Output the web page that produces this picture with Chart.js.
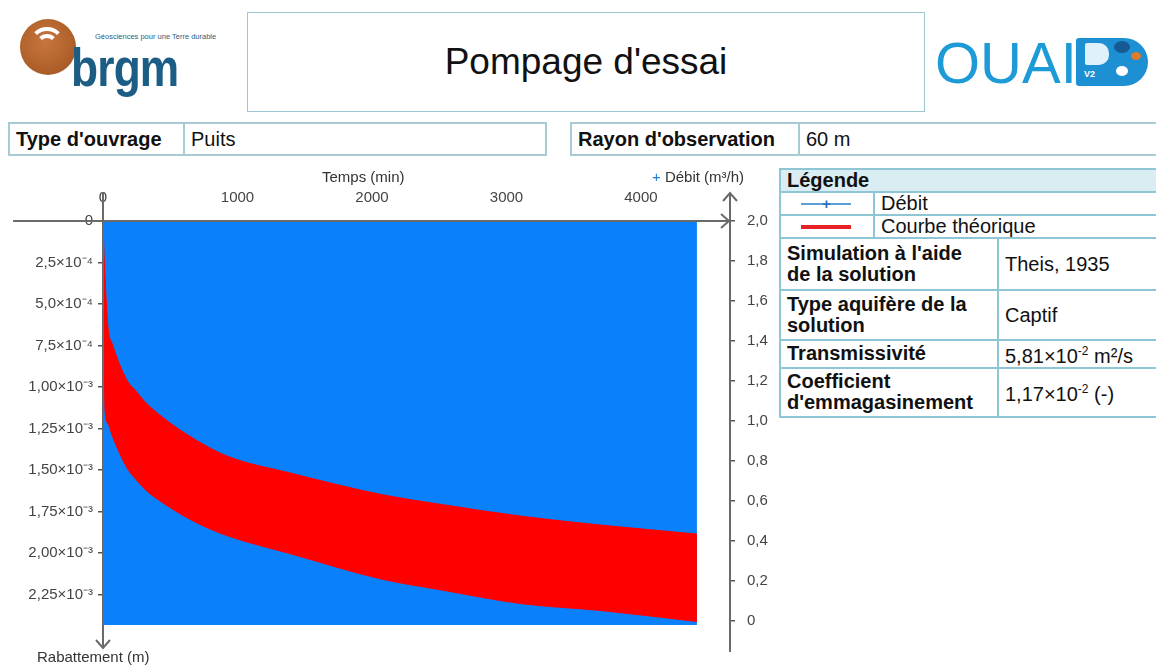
<!DOCTYPE html>
<html>
<head>
<meta charset="utf-8">
<script src="https://cdn.jsdelivr.net/npm/chart.js@4"></script>
<style>
  body { margin: 0; background: #fff; font-family: "Liberation Sans", Arial, sans-serif; color: #111; }
  #page { position: relative; width: 1156px; height: 666px; overflow: hidden; }
  .abs { position: absolute; }

  /* brgm logo */
  #ball { left: 20px; top: 19px; width: 56px; height: 56px; border-radius: 50%;
          background: radial-gradient(circle at 45% 40%, #c7773d 0%, #b0602a 60%, #9a5022 100%); overflow: hidden; }
  .ring { position: absolute; border-radius: 50%; border: 4px solid transparent; border-top-color: #fff; }
  #r1 { left: 9px; top: 8px; width: 28px; height: 28px; }
  #r2 { left: 16px; top: 15px; width: 14px; height: 14px; }
  #tag { left: 95px; top: 32px; font-size: 7.5px; color: #2c5f80; white-space: nowrap; }
  #word { left: 71px; top: 36px; font-size: 54px; font-weight: bold; color: #1c5d85;
          transform: scaleX(0.82); transform-origin: left top; letter-spacing: -1px; }

  #titlebox { left: 247px; top: 12px; width: 676px; height: 98px; border: 1px solid #9cc6d2;
              display: flex; align-items: center; justify-content: center; font-size: 37px; }

  /* OUAIP logo */
  #ouai { left: 935px; top: 29px; font-size: 58px; color: #1e9bd7; letter-spacing: 0px; }
  #badge { left: 1076px; top: 38px; width: 72px; height: 48px; background: #1d8fd3; border-radius: 3px 24px 24px 3px; }
  #badge .hole { position: absolute; left: 9px; top: 5px; width: 24px; height: 22px; background: #dff1fb; border-radius: 2px 10px 10px 2px; }
  #badge .v2 { position: absolute; left: 8px; top: 31px; font-size: 9px; color: #fff; font-weight: bold; }
  #badge .b1 { position: absolute; left: 38px; top: 3px; width: 16px; height: 12px; background: #155a93; border-radius: 50%; }
  #badge .b2 { position: absolute; left: 55px; top: 14px; width: 10px; height: 8px; background: #e07b2a; border-radius: 50%; }
  #badge .b3 { position: absolute; left: 40px; top: 28px; width: 12px; height: 10px; background: #fff; border-radius: 50%; }

  /* info row */
  .info { top: 122px; height: 30px; border: 2px solid #a8ccd6; display: flex; font-size: 20px; line-height: 30px; }
  .info .k { font-weight: bold; padding: 0 6px; border-right: 2px solid #a8ccd6; }
  .info .v { padding: 0 6px; }

  /* legend & parameters */
  table { position: absolute; border-collapse: collapse; table-layout: fixed; font-size: 20px; line-height: 21px; }
  td { border: 2px solid #8ec6d6; padding: 0 6px; vertical-align: middle; white-space: nowrap; }
  #legend { left: 779px; top: 168px; width: 390px; }
  #legend tr.head td { background: #d9edf3; font-weight: bold; height: 21px; }
  #legend td { height: 21px; }
  #params { left: 779px; top: 237px; width: 390px; }
  #params td.k { font-weight: bold; }
  .sym { position: relative; }
  .sym .ln { position: absolute; left: 20px; top: 50%; width: 50px; }
  .sym .blue { height: 2px; margin-top: -1px; background: #5c9ed8; }
  .sym .plus { position: absolute; left: 41px; top: 50%; margin-top: -11px; color: #2a70c0; font-size: 15px; font-weight: bold; }
  .sym .red { height: 4px; margin-top: -2px; background: #e62227; }

  #chartbox { left: 0; top: 160px; width: 775px; height: 506px; }
  .axt { font-size: 15px; color: #333; white-space: nowrap; }
</style>
</head>
<body>
<div id="page">
  <div id="ball" class="abs"><div id="r1" class="ring"></div><div id="r2" class="ring"></div></div>
  <div id="tag" class="abs">Géosciences pour une Terre durable</div>
  <div id="word" class="abs">brgm</div>

  <div id="titlebox" class="abs">Pompage d'essai</div>

  <div id="ouai" class="abs">OUAI</div>
  <div id="badge" class="abs"><div class="hole"></div><div class="v2">V2</div><div class="b1"></div><div class="b2"></div><div class="b3"></div></div>

  <div class="abs info" style="left:8px; width:535px;"><div class="k" style="width:161px;">Type d'ouvrage</div><div class="v">Puits</div></div>
  <div class="abs info" style="left:570px; width:590px;"><div class="k" style="width:214px;">Rayon d'observation</div><div class="v">60 m</div></div>

  <table id="legend">
    <colgroup><col style="width:94px"><col></colgroup>
    <tr class="head"><td colspan="2">Légende</td></tr>
    <tr><td class="sym"><div class="ln blue"></div><div class="plus">+</div></td><td>Débit</td></tr>
    <tr><td class="sym"><div class="ln red"></div></td><td>Courbe théorique</td></tr>
  </table>

  <table id="params">
    <colgroup><col style="width:218px"><col></colgroup>
    <tr style="height:52px"><td class="k">Simulation à l'aide<br>de la solution</td><td>Theis, 1935</td></tr>
    <tr style="height:50px"><td class="k">Type aquifère de la<br>solution</td><td>Captif</td></tr>
    <tr style="height:26px"><td class="k">Transmissivité</td><td>5,81×10<sup style="font-size:12px">-2</sup> m²/s</td></tr>
    <tr style="height:49px"><td class="k">Coefficient<br>d'emmagasinement</td><td>1,17×10<sup style="font-size:12px">-2</sup> (-)</td></tr>
  </table>

  <div id="chartbox" class="abs"><canvas id="chart" width="775" height="506"></canvas></div>
  <div class="abs axt" style="left:322px; top:168px;">Temps (min)</div>
  <div class="abs axt" style="left:652px; top:168px;"><span style="color:#1e7fd8">+</span> Débit (m³/h)</div>
  <div class="abs axt" style="left:37px; top:648px;">Rabattement (m)</div>
</div>

<script>
// pumping rate (m3/h), right axis
const debitTimes = [0, 4416];
const debitValues = [2.0, 2.0];

// theoretical curve, drawn as a band between its two envelopes (m)
const curveTimes = [0, 7, 15, 37, 67, 89, 141, 186, 238, 313, 439, 685, 931, 1400, 2063, 2509, 3105, 3701, 4416];
const curveUpper = [0, 1.9e-4, 3.41e-4, 6.41e-4, 7.37e-4, 7.9e-4, 8.98e-4, 9.7e-4, 1.018e-3, 1.09e-3, 1.18e-3,
                    1.317e-3, 1.419e-3, 1.52e-3, 1.647e-3, 1.707e-3, 1.778e-3, 1.832e-3, 1.886e-3];
const curveLower = [0, 6.59e-4, 1.138e-3, 1.22e-3, 1.29e-3, 1.335e-3, 1.43e-3, 1.497e-3, 1.55e-3, 1.617e-3, 1.695e-3,
                    1.814e-3, 1.898e-3, 2.006e-3, 2.156e-3, 2.222e-3, 2.305e-3, 2.347e-3, 2.413e-3];

const timeTicks = [0, 1000, 2000, 3000, 4000];
const drawdownTicks = [0, 2.5e-4, 5.0e-4, 7.5e-4, 1.0e-3, 1.25e-3, 1.5e-3, 1.75e-3, 2.0e-3, 2.25e-3];
const drawdownLabels = ['0', '2,5×10⁻⁴', '5,0×10⁻⁴', '7,5×10⁻⁴', '1,00×10⁻³', '1,25×10⁻³', '1,50×10⁻³',
                        '1,75×10⁻³', '2,00×10⁻³', '2,25×10⁻³'];
const debitTicks = [0, 0.2, 0.4, 0.6, 0.8, 1.0, 1.2, 1.4, 1.6, 1.8, 2.0];
const debitLabels = ['0', '0,2', '0,4', '0,6', '0,8', '1,0', '1,2', '1,4', '1,6', '1,8', '2,0'];

const pts = (xs, ys) => xs.map((x, i) => ({ x: x, y: ys[i] }));

// axis lines with open arrow heads
const axisArrows = {
  id: 'axisArrows',
  afterDraw(chart) {
    const ctx = chart.ctx;
    const a = chart.chartArea;
    const x0 = chart.scales.x.getPixelForValue(0);
    const y0 = chart.scales.yL.getPixelForValue(0);
    const xr = a.right;
    ctx.save();
    ctx.strokeStyle = '#6a6a6a';
    ctx.lineWidth = 2;
    ctx.beginPath();
    // time axis
    ctx.moveTo(13, y0); ctx.lineTo(xr - 1, y0);
    ctx.moveTo(xr - 9, y0 - 7); ctx.lineTo(xr - 1, y0); ctx.lineTo(xr - 9, y0 + 7);
    // drawdown axis
    ctx.moveTo(x0, 32); ctx.lineTo(x0, 488);
    ctx.moveTo(x0 - 7, 480); ctx.lineTo(x0, 488); ctx.lineTo(x0 + 7, 480);
    // debit axis
    ctx.moveTo(xr, 492); ctx.lineTo(xr, 33);
    ctx.moveTo(xr - 7, 41); ctx.lineTo(xr, 33); ctx.lineTo(xr + 7, 41);
    ctx.stroke();
    ctx.restore();
  }
};

const tickFont = { family: '"Liberation Sans", Arial, sans-serif', size: 15 };

new Chart(document.getElementById('chart').getContext('2d'), {
  type: 'line',
  data: {
    datasets: [
      {
        label: 'Courbe théorique',
        data: pts(curveTimes, curveUpper),
        yAxisID: 'yL',
        borderColor: '#ff0000',
        backgroundColor: '#ff0000',
        borderWidth: 1,
        pointRadius: 0,
        cubicInterpolationMode: 'monotone',
        fill: '+1',
        order: 1
      },
      {
        label: 'Courbe théorique (bas)',
        data: pts(curveTimes, curveLower),
        yAxisID: 'yL',
        borderColor: '#ff0000',
        borderWidth: 1,
        pointRadius: 0,
        cubicInterpolationMode: 'monotone',
        fill: false,
        order: 1
      },
      {
        label: 'Débit',
        data: pts(debitTimes, debitValues),
        yAxisID: 'yR',
        borderColor: '#0a80fb',
        backgroundColor: '#0a80fb',
        borderWidth: 1,
        pointRadius: 0,
        fill: 'start',
        order: 2
      }
    ]
  },
  options: {
    responsive: false,
    animation: false,
    layout: { padding: { left: 0, right: 0, top: 0, bottom: 41 } },
    plugins: { legend: { display: false }, tooltip: { enabled: false } },
    scales: {
      x: {
        type: 'linear',
        position: 'top',
        min: 0,
        max: 4662,
        afterBuildTicks: s => { s.ticks = timeTicks.map(v => ({ value: v })); },
        afterFit: s => { s.height = 61; },
        grid: { display: false, drawTicks: false },
        border: { display: false },
        ticks: { font: tickFont, color: '#444', padding: 14, maxRotation: 0, callback: v => String(v) }
      },
      yL: {
        type: 'linear',
        position: 'left',
        reverse: true,
        min: 0,
        max: 2.434e-3,
        afterBuildTicks: s => { s.ticks = drawdownTicks.map(v => ({ value: v })); },
        afterFit: s => { s.width = 103; },
        grid: { drawOnChartArea: false, color: '#555', tickLength: 5, lineWidth: 1.5 },
        border: { display: false },
        ticks: { font: tickFont, color: '#444', padding: 5, callback: (v, i) => drawdownLabels[i] }
      },
      yR: {
        type: 'linear',
        position: 'right',
        min: -0.02,
        max: 2.0,
        afterBuildTicks: s => { s.ticks = debitTicks.map(v => ({ value: v })); },
        afterFit: s => { s.width = 45; },
        grid: { drawOnChartArea: false, color: '#555', tickLength: 5, lineWidth: 1.5 },
        border: { display: false },
        ticks: { font: tickFont, color: '#444', padding: 12, callback: (v, i) => debitLabels[i] }
      }
    }
  },
  plugins: [axisArrows]
});
</script>
</body>
</html>
